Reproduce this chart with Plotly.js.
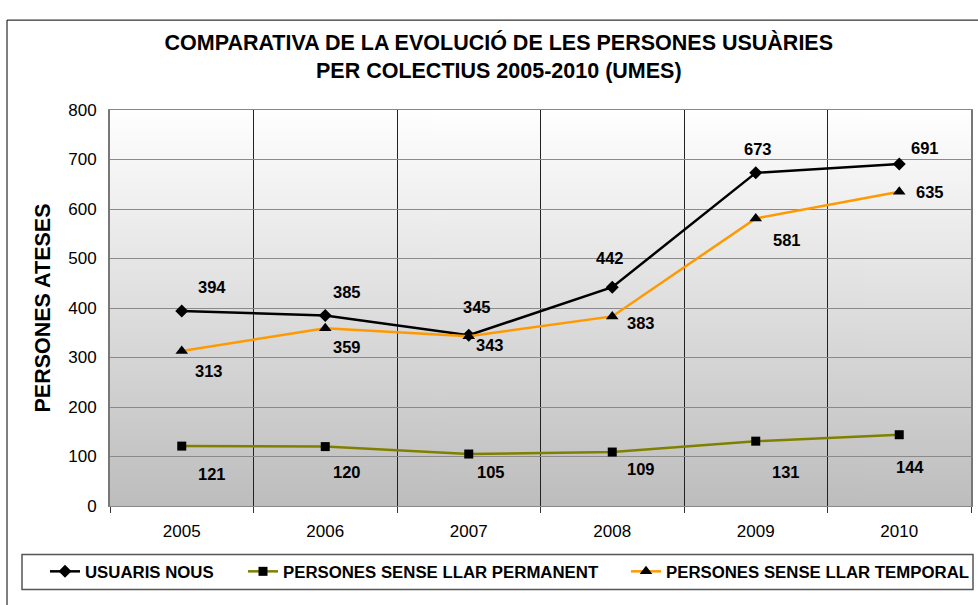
<!DOCTYPE html>
<html>
<head>
<meta charset="utf-8">
<script src="https://cdn.plot.ly/plotly-3.0.1.min.js"></script>
<style>
html,body{margin:0;padding:0;background:#fff;}
#chart{width:978px;height:605px;}
</style>
</head>
<body>
<div id="chart"></div>
<script>
// ---- data ----
const years = ['2005', '2006', '2007', '2008', '2009', '2010'];
const usuarisNous = [394, 385, 345, 442, 673, 691];
const senseLlarPermanent = [121, 120, 105, 109, 131, 144];
const senseLlarTemporal = [313, 359, 343, 383, 581, 635];
const seriesNames = ['USUARIS NOUS', 'PERSONES SENSE LLAR PERMANENT', 'PERSONES SENSE LLAR TEMPORAL'];

// ---- label placement (pixel offsets: right, down) ----
const offNous = [[30, -24], [22, -23], [8, -28], [-2, -29], [2, -24], [26, -16]];
const offPerm = [[30, 28], [22, 25], [22, 18], [29, 17], [30, 31], [11, 32]];
const offTemp = [[27, 20], [22, 19], [21, 9], [29, 7], [31, 22], [31, 0]];

const idx = years.map((_, i) => i);

// plot-area geometry (px) used for paper-coordinate placement
const PL = 110, PR = 971, PT = 110, PB = 506.5;
const px2x = p => (p - PL) / (PR - PL);
const px2y = p => (PB - p) / (PB - PT);

// gradient background image
const cv = document.createElement('canvas');
cv.width = 4; cv.height = 400;
const ctx = cv.getContext('2d');
const g = ctx.createLinearGradient(0, 0, 0, 400);
g.addColorStop(0, '#ffffff');
g.addColorStop(1, '#bdbdbd');
ctx.fillStyle = g;
ctx.fillRect(0, 0, 4, 400);
const bgImg = cv.toDataURL('image/png');

const FONT = 'Liberation Sans, Arial, sans-serif';

const traces = [
  {x: idx, y: usuarisNous, name: seriesNames[0], type: 'scatter', mode: 'lines+markers', legend: 'legend',
   line: {color: '#000000', width: 2.5}, marker: {symbol: 'diamond', size: 10, color: '#000000'}},
  {x: idx, y: senseLlarPermanent, name: seriesNames[1], type: 'scatter', mode: 'lines+markers', legend: 'legend2',
   line: {color: '#808000', width: 2.5}, marker: {symbol: 'square', size: 9, color: '#000000'}},
  {x: idx, y: senseLlarTemporal, name: seriesNames[2], type: 'scatter', mode: 'lines+markers', legend: 'legend3',
   line: {color: '#FF9900', width: 2.5}, marker: {symbol: 'triangle-up', size: 11, color: '#000000'}}
];

const annotations = [];
function addLabels(vals, offs) {
  vals.forEach((v, i) => {
    annotations.push({x: idx[i], y: v, xref: 'x', yref: 'y', text: '<b>' + v + '</b>', showarrow: false,
      xshift: offs[i][0], yshift: -offs[i][1],
      font: {family: FONT, size: 16.5, color: '#000'}});
  });
}
addLabels(usuarisNous, offNous);
addLabels(senseLlarPermanent, offPerm);
addLabels(senseLlarTemporal, offTemp);

function legendAt(textLeftPx) {
  return {
    orientation: 'h', x: px2x(textLeftPx - 40), xanchor: 'left', y: px2y(572), yanchor: 'middle',
    borderwidth: 0, bgcolor: 'rgba(0,0,0,0)',
    font: {family: FONT, size: 16.8, color: '#000', weight: 'bold'}
  };
}

const layout = {
  width: 978, height: 605,
  margin: {l: PL, r: 978 - PR, t: PT, b: 605 - PB, autoexpand: false},
  paper_bgcolor: '#ffffff',
  plot_bgcolor: 'rgba(0,0,0,0)',
  font: {family: FONT, color: '#000'},
  title: {
    text: '<b>COMPARATIVA DE LA EVOLUCIÓ DE LES PERSONES USUÀRIES<br>PER COLECTIUS 2005-2010 (UMES)</b>',
    font: {family: FONT, size: 21.5, color: '#000'},
    x: 0.51, xanchor: 'center', y: 0.917, yanchor: 'top'
  },
  xaxis: {
    range: [-0.5, 5.5], tickvals: idx, ticktext: years,
    showgrid: false, ticks: '', zeroline: false,
    minor: {tick0: 0.5, dtick: 1, showgrid: true, gridcolor: '#222', gridwidth: 1,
            ticks: 'outside', ticklen: 6, tickcolor: '#333'},
    showline: true, linecolor: '#888', linewidth: 1, mirror: true,
    tickfont: {family: FONT, size: 17, color: '#000'},
    ticklabelstandoff: 10
  },
  yaxis: {
    range: [0, 800], dtick: 100, tick0: 0,
    showgrid: true, gridcolor: '#8a8a8a', gridwidth: 1,
    showline: true, linecolor: '#777', linewidth: 2, mirror: true,
    zeroline: true, zerolinecolor: '#222', zerolinewidth: 2,
    ticks: '', ticklen: 0, ticklabelstandoff: 8,
    tickfont: {family: FONT, size: 17, color: '#000'},
    title: {text: '<b>PERSONES ATESES</b>', font: {family: FONT, size: 21.5, color: '#000'}, standoff: 12}
  },
  legend: legendAt(85),
  legend2: legendAt(283),
  legend3: legendAt(666),
  images: [{source: bgImg, xref: 'paper', yref: 'paper', x: 0, y: 1, sizex: 1, sizey: 1,
            xanchor: 'left', yanchor: 'top', sizing: 'stretch', layer: 'below'}],
  shapes: [
    {type: 'rect', xref: 'paper', yref: 'paper', x0: px2x(7), x1: 1.1, y0: -0.3, y1: px2y(20),
     line: {color: '#000', width: 1}, fillcolor: 'rgba(0,0,0,0)', layer: 'below'},
    {type: 'rect', xref: 'paper', yref: 'paper', x0: px2x(22), x1: px2x(973), y0: px2y(590), y1: px2y(555),
     line: {color: '#555', width: 1.5}, fillcolor: '#ffffff', layer: 'below'}
  ],
  annotations: annotations,
  showlegend: true
};

Plotly.newPlot('chart', traces, layout, {displayModeBar: false, staticPlot: true});
</script>
</body>
</html>
